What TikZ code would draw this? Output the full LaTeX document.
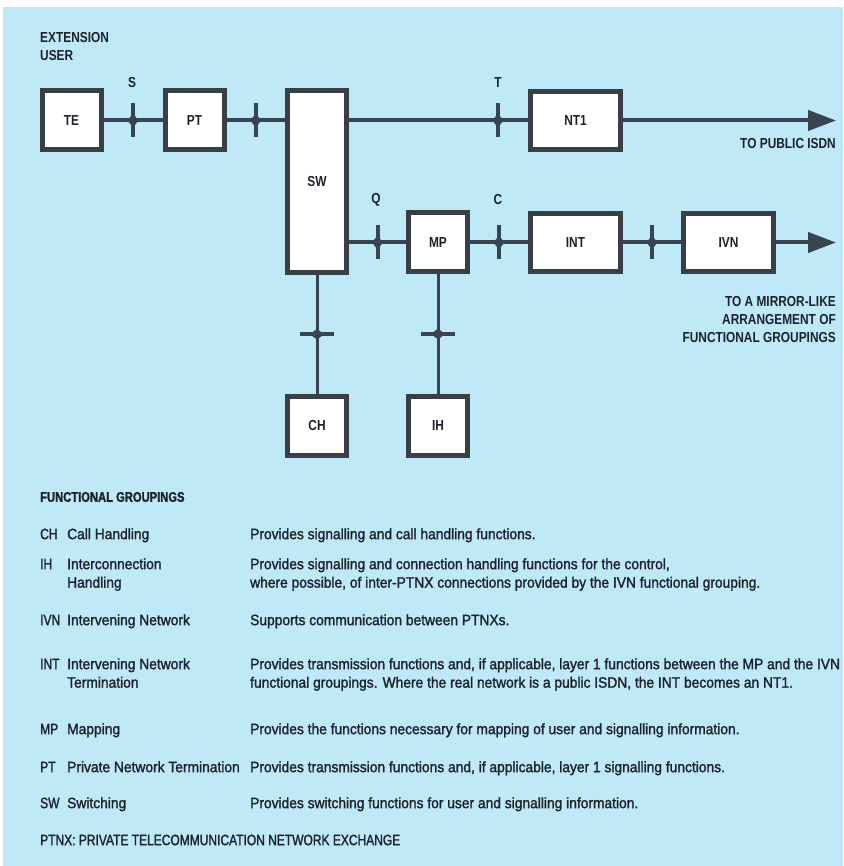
\documentclass[tikz,border=0pt]{standalone}
\usepackage{fontspec}
\setmainfont{Liberation Sans}[FakeStretch=0.82]
\newfontfamily\tabfont{Liberation Sans}[FakeStretch=0.92, FakeBold=1.5]
\newfontfamily\capfont{Liberation Sans}[FakeStretch=0.8, FakeBold=1.5]
\usepackage{xcolor}
\usetikzlibrary{arrows.meta}
\definecolor{sheet}{RGB}{192,233,247}
\definecolor{frame}{RGB}{58,62,70}
\definecolor{wire}{RGB}{55,68,82}
\definecolor{ink}{RGB}{28,34,44}
\tikzset{refpt/.pic={
  \draw[wire, line width=4pt] (0,-17) -- (0,17);
  \fill[wire] (-5.5,0) -- (0,-7) -- (5.5,0) -- (0,7) -- cycle;}}

\begin{document}
\begin{tikzpicture}[
  x=1pt,y=-1pt,
  fgbox/.style={draw=frame, line width=5pt, fill=white, inner sep=0pt, minimum width=59pt, minimum height=59pt, text=ink, font=\bfseries\fontsize{14.5}{18}\selectfont},
  widebox/.style={fgbox, minimum width=90pt, minimum height=58pt},
  link/.style={draw=wire, line width=4pt},
  stub/.style={draw=wire, line width=3pt},
  lbl/.style={inner sep=0pt, text=ink, font=\bfseries\fontsize{14.5}{18}\selectfont},
  tab/.style={inner sep=0pt, anchor=north west, align=left, text=ink, font=\tabfont\fontsize{15}{18.5}\selectfont},
  tabcap/.style={tab, font=\capfont\fontsize{15}{18.5}\selectfont}]
\useasboundingbox (0,0) rectangle (843,866);
\fill[sheet] (3,7) rectangle (843,866);
% functional groupings
\node[fgbox] (te) at (71.5,120.5) {TE};
\node[fgbox] (pt) at (194.5,120.5) {PT};
\node[fgbox, minimum height=182pt] (sw) at (317,181.5) {SW};
\node[widebox] (nt1) at (575.5,120.5) {NT1};
\node[fgbox] (mp) at (438,242.5) {MP};
\node[widebox] (int) at (575.5,242.5) {INT};
\node[widebox] (ivn) at (728.5,242.5) {IVN};
\node[fgbox] (ch) at (317,425.5) {CH};
\node[fgbox] (ih) at (438,425.5) {IH};
\coordinate (isdn) at (836,120.5);
\coordinate (mirror) at (836,242.5);
% connectors and reference points
\draw[link] (te) -- coordinate[pos=.5] (rs) (pt);
\draw[link] (pt) -- coordinate[pos=.5] (rsw) (sw.west |- pt);
\draw[link] (sw.east |- nt1) -- coordinate[pos=.832] (rt) (nt1);
\draw[link] (sw.east |- mp) -- coordinate[pos=.5] (rq) (mp);
\draw[link] (mp) -- coordinate[pos=.5] (rc) (int);
\draw[link] (int) -- coordinate[pos=.5] (rn) (ivn);
\draw[stub] (sw) -- coordinate[pos=.5] (rch) (ch);
\draw[stub] (mp) -- coordinate[pos=.5] (rih) (ih);
\draw[link, -{Triangle[length=28pt,width=20pt]}] (nt1) -- (isdn);
\draw[link, -{Triangle[length=28pt,width=20pt]}] (ivn) -- (mirror);
\foreach \r in {rs,rsw,rt,rq,rc,rn}
  \pic at (\r) {refpt};
\foreach \r in {rch,rih}
  \pic[rotate=90] at (\r) {refpt};
% labels
\node[lbl] (s) at (132,83) {S};
\node[lbl] (t) at (498,83) {T};
\node[lbl] (q) at (376,200) {Q};
\node[lbl] (c) at (498,200) {C};
\node[lbl, anchor=north west, align=left] (ext) at (40,32.5) {EXTENSION\\USER};
\node[lbl, anchor=base east] (pub) at (836,148.5) {TO PUBLIC ISDN};
\node[lbl, anchor=north east, align=right] (mir) at (836,296.5) {TO A MIRROR-LIKE\\ARRANGEMENT OF\\FUNCTIONAL GROUPINGS};
% legend
\node[tab, font=\capfont\bfseries\fontsize{14}{18}\selectfont] (fghead) at (40,502-13) {\strut FUNCTIONAL GROUPINGS};
\foreach \y/\ab/\nm/\ds in {
  539/CH/{Call Handling}/{Provides signalling and call handling functions.},
  569/IH/{Interconnection\\Handling}/{Provides signalling and connection handling functions for the control,\\where possible, of inter-PTNX connections provided by the IVN functional grouping.},
  625/IVN/{Intervening Network}/{Supports communication between PTNXs.},
  669/INT/{Intervening Network\\Termination}/{Provides transmission functions and, if applicable, layer 1 functions between the MP and the IVN\\functional groupings. Where the real network is a public ISDN, the INT becomes an NT1.},
  734/MP/{Mapping}/{Provides the functions necessary for mapping of user and signalling information.},
  772/PT/{Private Network Termination}/{Provides transmission functions and, if applicable, layer 1 signalling functions.},
  808/SW/{Switching}/{Provides switching functions for user and signalling information.}}
{
  \node[tabcap] (ab\ab) at (40,\y-13) {\strut\ab};
  \node[tab] (nm\ab) at (67,\y-13) {\strut\nm};
  \node[tab] (ds\ab) at (250,\y-13) {\strut\ds};
}
\node[tabcap] (ptnx) at (40,845-13) {\strut PTNX: PRIVATE TELECOMMUNICATION NETWORK EXCHANGE};
\end{tikzpicture}
\end{document}
